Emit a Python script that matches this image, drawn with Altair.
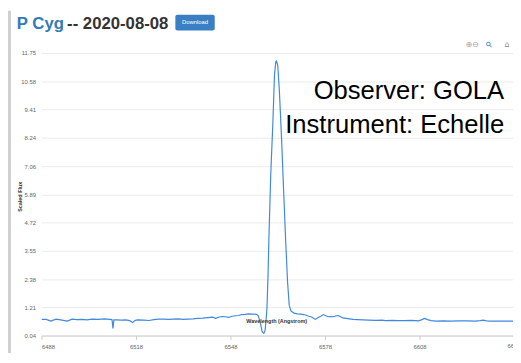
import altair as alt
import pandas as pd

# ---- data ----
wavelength = [
    6488.0, 6489.5, 6491.0, 6492.6, 6494.1, 6496.2, 6497.7, 6499.3, 6500.8, 6502.4,
    6504.0, 6506.0, 6508.1, 6509.7, 6510.4, 6510.7, 6511.0, 6511.9, 6513.3, 6514.8,
    6516.0, 6516.9, 6517.8, 6518.5, 6520.5, 6522.1, 6523.7, 6525.2, 6526.8, 6528.3,
    6529.9, 6531.4, 6533.0, 6534.5, 6536.1, 6537.6, 6539.2, 6540.8, 6542.3, 6543.3,
    6544.4, 6545.4, 6546.4, 6547.5, 6548.5, 6549.6, 6550.6, 6551.6, 6552.7, 6553.7,
    6555.1, 6556.3, 6556.8, 6557.3, 6557.6, 6558.0, 6558.3, 6558.6, 6558.97, 6559.28,
    6559.59, 6559.90, 6560.2, 6560.8, 6561.45, 6561.98, 6562.39, 6562.6, 6563.01, 6563.54,
    6564.25, 6564.87, 6565.50, 6566.12, 6566.65, 6567.2, 6568.2, 6569.2, 6570.3, 6571.3,
    6572.1, 6572.9, 6573.9, 6574.9, 6576.0, 6576.8, 6577.5, 6578.3, 6579.1, 6579.9,
    6580.6, 6581.4, 6582.2, 6583.0, 6583.7, 6585.3, 6586.9, 6588.4, 6590.0, 6592.0,
    6594.1, 6596.2, 6597.2, 6599.3, 6601.3, 6603.4, 6605.5, 6607.6, 6608.6, 6609.6,
    6610.6, 6611.7, 6613.3, 6615.6, 6617.9, 6620.5, 6623.1, 6625.7, 6627.3, 6628.3,
    6629.3, 6630.4, 6633.5, 6636.6, 6638.0,
]
flux = [
    0.71, 0.71, 0.64, 0.72, 0.69, 0.64, 0.72, 0.70, 0.71, 0.69,
    0.72, 0.71, 0.73, 0.71, 0.70, 0.33, 0.69, 0.69, 0.68, 0.69,
    0.66, 0.58, 0.67, 0.69, 0.68, 0.665, 0.70, 0.72, 0.72, 0.71,
    0.72, 0.73, 0.71, 0.72, 0.73, 0.75, 0.76, 0.78, 0.80, 0.75,
    0.81, 0.83, 0.82, 0.79, 0.84, 0.86, 0.87, 0.91, 0.92, 0.94,
    0.93, 0.92, 0.86, 0.66, 0.50, 0.23, 0.16, 0.13, 0.23, 0.64,
    1.18, 2.41, 4.04, 6.77, 8.81, 10.85, 11.38, 11.42, 11.25, 10.16,
    8.12, 6.08, 4.04, 2.28, 1.30, 1.06, 0.97, 0.94, 0.93, 0.91,
    0.88, 0.84, 0.80, 0.71, 0.80, 0.85, 0.91, 0.86, 0.82, 0.83,
    0.82, 0.85, 0.87, 0.82, 0.77, 0.74, 0.71, 0.70, 0.69, 0.68,
    0.67, 0.68, 0.66, 0.67, 0.66, 0.66, 0.67, 0.65, 0.69, 0.75,
    0.70, 0.66, 0.64, 0.645, 0.64, 0.65, 0.65, 0.64, 0.66, 0.68,
    0.65, 0.64, 0.64, 0.64, 0.64,
]
x_ticks = [6488, 6518, 6548, 6578, 6608]
x_extra_tick = [6638]
y_ticks = [0.04, 1.21, 2.38, 3.55, 4.72, 5.89, 7.06, 8.24, 9.41, 10.58, 11.75]

star = "P Cyg"
date_text = "-- 2020-08-08"
button_text = "Download"
observer_text = "Observer: GOLA"
instrument_text = "Instrument: Echelle"
x_title = "Wavelength (Angstrom)"
y_title = "Scaled Flux"
toolbar_zoom = "⊕⊖"
toolbar_mag = "⚲"
toolbar_home = "⌂"

FONT = "Liberation Sans"
LINE = "#3f88e0"

df = pd.DataFrame({"w": wavelength, "f": flux})
xs = alt.Scale(domain=[6488, 6637.7], nice=False, zero=False)
ys = alt.Scale(domain=[0.04, 11.75], nice=False, zero=False)

line = alt.Chart(df).mark_line(color=LINE, strokeWidth=1.2, clip=True).encode(
    x=alt.X("w:Q", scale=xs, axis=alt.Axis(
        values=x_ticks, title=None, grid=False, domainColor="#cccccc",
        tickColor="#cccccc", tickSize=4, labelColor="#666666", labelFontSize=6,
        labelFont=FONT, labelPadding=4, format="d")),
    y=alt.Y("f:Q", scale=ys, axis=alt.Axis(
        values=y_ticks, title=None, grid=True, gridColor="#ebebeb", domain=False,
        ticks=False, labelColor="#666666", labelFontSize=6, labelFont=FONT,
        labelPadding=6, format=".2f")),
)

extra_tick = alt.Chart(pd.DataFrame({"w": x_extra_tick, "t": ["6638"]})).mark_text(
    font=FONT, fontSize=6, color="#666666", baseline="top"
).encode(x=alt.X("w:Q", scale=xs), y=alt.value(295), text="t:N")

one = pd.DataFrame({"a": [0]})

def label(txt, x, y, **kw):
    return alt.Chart(one).mark_text(text=txt, **kw).encode(x=alt.value(x), y=alt.value(y))

shadow = alt.Chart(one).mark_rect(color="#d0d0d0").encode(
    x=alt.value(-34), x2=alt.value(-31), y=alt.value(-43), y2=alt.value(312))

button = alt.Chart(one).mark_rect(color="#3a7fc4", cornerRadius=2).encode(
    x=alt.value(136), x2=alt.value(176), y=alt.value(-39), y2=alt.value(-23))

layers = [
    shadow,
    line,
    extra_tick,
    label(star, -25, -24, font=FONT, fontSize=17, fontWeight="bold", color="#337ab7",
          align="left", baseline="alphabetic"),
    label(date_text, 26, -24, font=FONT, fontSize=17, fontWeight="bold", color="#333333",
          align="left", baseline="alphabetic"),
    button,
    label(button_text, 156, -31, font=FONT, fontSize=6, color="white",
          align="center", baseline="middle"),
    label(toolbar_zoom, 431, -8, font="DejaVu Sans", fontSize=8, color="#999999",
          align="left", baseline="middle"),
    label(toolbar_mag, 455, -8, font="DejaVu Sans", fontSize=8, color="#3a7fc4",
          align="center", baseline="middle", angle=315),
    label(toolbar_home, 473, -8, font="DejaVu Sans", fontSize=8, color="#888888",
          align="center", baseline="middle"),
    label(observer_text, 470, 47, font=FONT, fontSize=26, color="black",
          align="right", baseline="alphabetic"),
    label(instrument_text, 470, 81, font=FONT, fontSize=26, color="black",
          align="right", baseline="alphabetic"),
    label(x_title, 239, 272, font=FONT, fontSize=5.5, fontWeight="bold", color="#333333",
          align="center", baseline="middle"),
    label(y_title, -22, 146, font=FONT, fontSize=5.5, fontWeight="bold", color="#333333",
          align="center", baseline="middle", angle=270),
]

chart = alt.layer(*layers).properties(
    width=479, height=287, autosize="none",
    padding={"left": 34, "top": 43, "right": 0, "bottom": 15},
).configure_view(stroke=None)

chart.save("out.html", embed_options={"renderer": "svg", "actions": False})
